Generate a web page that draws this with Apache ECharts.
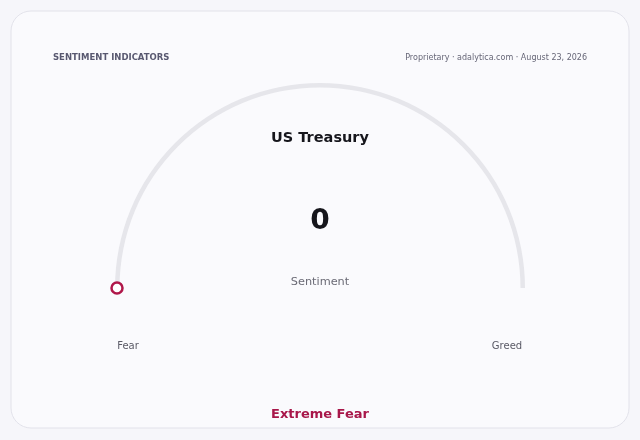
<!DOCTYPE html>
<html><head><meta charset="utf-8">
<script src="https://cdn.jsdelivr.net/npm/echarts@6/dist/echarts.min.js"></script>
<style>html,body{margin:0;padding:0;background:#f6f6fa;}#c{width:640px;height:440px;}</style>
</head><body><div id="c"></div>
<script>
var seriesName = 'US Treasury';
var sentimentValue = [0];
var scaleLabels = ['Fear', 'Greed'];
var zoneLabel = 'Extreme Fear';
var headerLeft = 'SENTIMENT INDICATORS';
var headerRight = 'Proprietary · adalytica.com · August 23, 2026';
var font = 'DejaVu Sans';
var chart = echarts.init(document.getElementById('c'), null, {renderer: 'canvas'});
chart.setOption({
  backgroundColor: 'transparent',
  animation: false,
  polar: {center: [320, 288], radius: [0, 203]},
  angleAxis: {type: 'value', min: 0, max: 200, startAngle: 180, clockwise: true, show: false},
  radiusAxis: {type: 'value', min: 0, max: 1, show: false},
  graphic: [
    {type: 'rect', z: -10, shape: {x: 11, y: 11, width: 618, height: 417, r: 20}, style: {fill: '#fafafd', stroke: '#e2e2ea', lineWidth: 1}},
    {type: 'text', x: 53, y: 58, style: {text: headerLeft, font: 'bold 8.5px ' + font, fill: '#585870', textVerticalAlign: 'middle'}},
    {type: 'text', x: 587, y: 58, style: {text: headerRight, font: '8px ' + font, fill: '#666677', textAlign: 'right', textVerticalAlign: 'middle'}},
    {type: 'text', x: 320, y: 282, style: {text: 'Sentiment', font: '11.3px ' + font, fill: '#6a6a75', textAlign: 'center', textVerticalAlign: 'middle'}},
    {type: 'text', x: 128, y: 346, style: {text: scaleLabels[0], font: '10px ' + font, fill: '#5a5a66', textAlign: 'center', textVerticalAlign: 'middle'}},
    {type: 'text', x: 507, y: 346, style: {text: scaleLabels[1], font: '10px ' + font, fill: '#5a5a66', textAlign: 'center', textVerticalAlign: 'middle'}},
    {type: 'text', x: 320, y: 415, style: {text: zoneLabel, font: 'bold 13px ' + font, fill: '#a8174a', textAlign: 'center', textVerticalAlign: 'middle'}}
  ],
  series: [
    {
      type: 'gauge',
      center: [320, 288],
      radius: 205,
      startAngle: 180,
      endAngle: 0,
      min: 0,
      max: 100,
      axisLine: {roundCap: false, lineStyle: {width: 4.5, color: [[1, '#e6e6eb']]}},
      progress: {show: false},
      pointer: {show: false},
      anchor: {show: false},
      axisTick: {show: false},
      splitLine: {show: false},
      axisLabel: {show: false},
      title: {offsetCenter: [0, -150], fontSize: 14.5, fontWeight: 'bold', color: '#16161c', fontFamily: font},
      detail: {offsetCenter: [0, -66], fontSize: 28, fontWeight: 'bold', color: '#16161c', fontFamily: font, valueAnimation: false, formatter: '{value}'},
      data: [{value: sentimentValue[0], name: seriesName}]
    },
    {
      type: 'scatter',
      coordinateSystem: 'polar',
      symbol: 'circle',
      symbolSize: 11,
      itemStyle: {color: '#ffffff', borderColor: '#b0174a', borderWidth: 2.5, opacity: 1},
      z: 5,
      data: [[1, sentimentValue[0]]]
    }
  ]
});
</script></body></html>
